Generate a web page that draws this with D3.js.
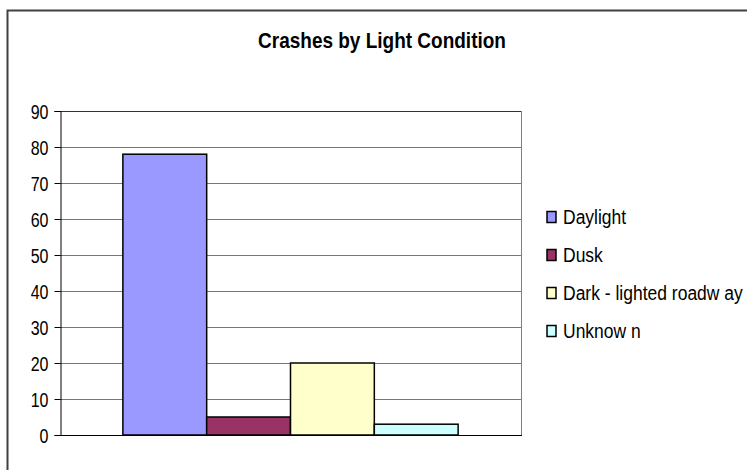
<!DOCTYPE html>
<html>
<head>
<meta charset="utf-8">
<script src="https://cdn.jsdelivr.net/npm/d3@7"></script>
<style>
  html, body { margin: 0; padding: 0; background: #fff; }
  svg { display: block; }
  text { font-family: "Liberation Sans", Arial, sans-serif; fill: #000; }
</style>
</head>
<body>
<svg id="chart" width="747" height="470"></svg>
<script>
const title = "Crashes by Light Condition";
const categories = ["Crashes"];
const seriesNames = ["Daylight", "Dusk", "Dark - lighted roadw ay", "Unknow n"];
const seriesValues = [78, 5, 20, 3];
const seriesColors = ["#9999FF", "#993366", "#FFFFCC", "#CCFFFF"];
const yTicks = [0, 10, 20, 30, 40, 50, 60, 70, 80, 90];

const svg = d3.select("#chart");
const plot = { left: 60, right: 521, top: 111, bottom: 435 };

// outer chart border
svg.append("rect")
  .attr("x", 7.5).attr("y", 10.5)
  .attr("width", 800).attr("height", 600)
  .attr("fill", "#fff")
  .attr("stroke", "#404040").attr("stroke-width", 2);

// title
svg.append("text")
  .attr("transform", "translate(382,48) scale(1,1.12)")
  .attr("text-anchor", "middle")
  .attr("font-weight", "bold")
  .attr("font-size", 19)
  .text(title);

const y = d3.scaleLinear().domain([0, 90]).range([plot.bottom, plot.top]);
const x0 = d3.scaleBand().domain(categories).range([plot.left, plot.right])
  .paddingInner(0).paddingOuter(0.1875);
const x1 = d3.scaleBand().domain(seriesNames).range([0, x0.bandwidth()]).padding(0);

// gridlines
svg.append("g").selectAll("line")
  .data(yTicks.filter(t => t > 0))
  .join("line")
  .attr("x1", plot.left).attr("x2", plot.right)
  .attr("y1", d => Math.round(y(d)) + 0.5).attr("y2", d => Math.round(y(d)) + 0.5)
  .attr("stroke", d => d === 90 ? "#333" : "#777").attr("stroke-width", 1);

// right plot border
svg.append("line")
  .attr("x1", plot.right + 0.5).attr("x2", plot.right + 0.5)
  .attr("y1", plot.top).attr("y2", plot.bottom)
  .attr("stroke", "#808080");

// bars
const g = svg.append("g");
categories.forEach(cat => {
  g.selectAll("rect.bar")
    .data(seriesNames.map((s, i) => ({ s, v: seriesValues[i], c: seriesColors[i] })))
    .join("rect")
    .attr("class", "bar")
    .attr("x", d => x0(cat) + x1(d.s))
    .attr("y", d => y(d.v))
    .attr("width", x1.bandwidth())
    .attr("height", d => y(0) - y(d.v))
    .attr("fill", d => d.c)
    .attr("stroke", "#000").attr("stroke-width", 1.5);
});

// y axis
const yAxis = d3.axisLeft(y).tickValues(yTicks).tickSize(6).tickPadding(6).tickFormat(d3.format("d"));
const ya = svg.append("g").attr("transform", `translate(${plot.left + 0.5},0)`).call(yAxis);
ya.select(".domain").attr("stroke", "#000");
ya.selectAll(".tick line").attr("stroke", "#000");
ya.selectAll(".tick text")
  .attr("font-size", 16)
  .attr("font-family", "Liberation Sans, Arial, sans-serif")
  .attr("fill", "#000")
  .attr("dy", null)
  .attr("dominant-baseline", "central")
  .attr("transform", "scale(1,1.25)")
  .attr("y", 0.4);

// x axis baseline
svg.append("line")
  .attr("x1", plot.left).attr("x2", plot.right + 1)
  .attr("y1", plot.bottom + 0.5).attr("y2", plot.bottom + 0.5)
  .attr("stroke", "#000");

// legend
const legend = svg.append("g");
const rowY = d3.scalePoint().domain(seriesNames).range([217, 331]);
seriesNames.forEach((s, i) => {
  const cy = rowY(s);
  legend.append("rect")
    .attr("x", 547).attr("y", cy - 5.5)
    .attr("width", 9).attr("height", 11)
    .attr("fill", seriesColors[i])
    .attr("stroke", "#000").attr("stroke-width", 1.5);
  legend.append("text")
    .attr("transform", `translate(563,${cy}) scale(1,1.2)`)
    .attr("dominant-baseline", "central")
    .attr("font-size", 17.5)
    .text(s);
});
</script>
</body>
</html>
